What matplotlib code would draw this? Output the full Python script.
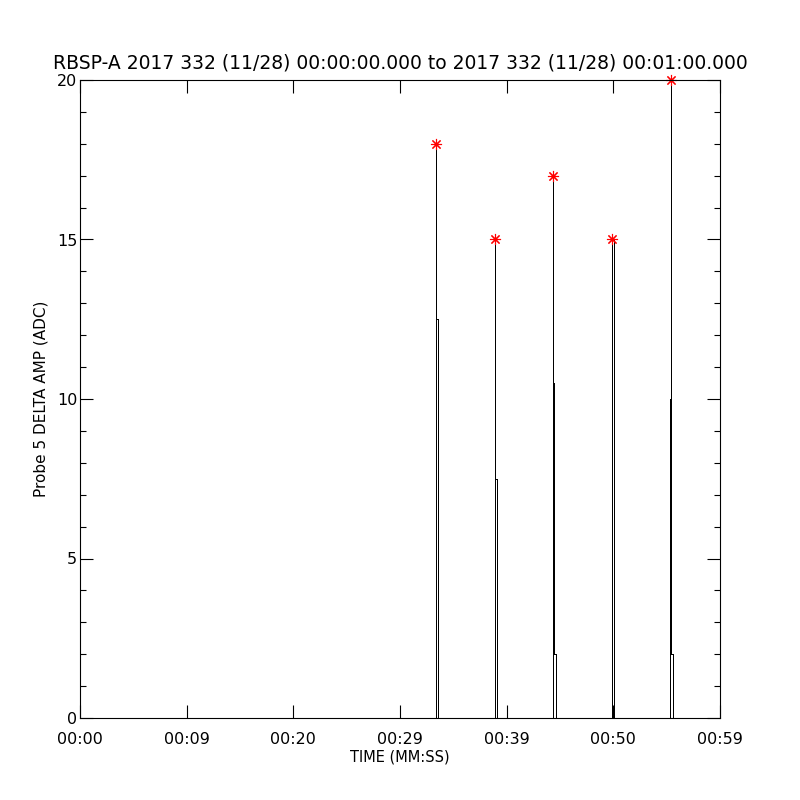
import matplotlib
matplotlib.use("Agg")
import matplotlib.pyplot as plt
from matplotlib.ticker import MultipleLocator

# burst samples: time (seconds after 00:00:00) and amplitude (ADC)
t_b1 = [33.33, 33.33, 33.42, 33.42, 33.42, 33.52, 33.52]
amp_b1 = [0, 12, 12, 18, 12.5, 12.5, 0]
t_b2 = [38.86, 38.86, 38.95, 38.95, 38.95, 39.05, 39.05]
amp_b2 = [0, 4, 4, 15, 7.5, 7.5, 0]
t_b3 = [44.30, 44.30, 44.39, 44.39, 44.39, 44.48, 44.48, 44.58, 44.58]
amp_b3 = [0, 5, 5, 17, 10.5, 10.5, 2, 2, 0]
t_b4 = [49.83, 49.83, 49.92, 49.92, 50.02, 50.02]
amp_b4 = [0, 7.5, 7.5, 15, 15, 0]
t_b5 = [55.27, 55.27, 55.36, 55.36, 55.45, 55.45, 55.55, 55.55]
amp_b5 = [0, 10, 10, 20, 20, 2, 2, 0]

peak_t = [33.42, 38.95, 44.39, 49.92, 55.40]
peak_amp = [18, 15, 17, 15, 20]

xtick_pos = [0, 10, 20, 30, 40, 50, 60]
xtick_labels = ['00:00', '00:09', '00:20', '00:29', '00:39', '00:50', '00:59']

time = [0.0] + t_b1 + t_b2 + t_b3 + t_b4 + t_b5 + [60.0]
amp = [0] + amp_b1 + amp_b2 + amp_b3 + amp_b4 + amp_b5 + [0]

plt.rcParams['font.family'] = ['DejaVu Sans']
fig = plt.figure(figsize=(8, 8), dpi=100)
ax = fig.add_axes([0.1, 0.1025, 0.8, 0.7975])

ax.plot(time, amp, color='black', lw=0.7, antialiased=False)
ax.plot(peak_t, peak_amp, ls='none', marker=(8, 2, 0), ms=8, mew=0.8,
        color='red', clip_on=False)

ax.set_xlim(0, 60)
ax.set_ylim(0, 20)
ax.set_xticks(xtick_pos)
ax.set_xticklabels(xtick_labels)
ax.yaxis.set_major_locator(MultipleLocator(5))
ax.yaxis.set_minor_locator(MultipleLocator(1))

ax.tick_params(which='both', direction='in', top=True, right=True,
               labelsize=11.5, width=0.8)
ax.tick_params(which='major', length=9.5)
ax.tick_params(axis='x', which='major', pad=10)
ax.tick_params(axis='y', which='major', pad=2)
ax.tick_params(which='minor', length=4)
for s in ax.spines.values():
    s.set_linewidth(0.8)

ax.set_xlabel('TIME (MM:SS)', fontsize=10.5, labelpad=2)
ax.set_ylabel('Probe 5 DELTA AMP (ADC)', fontsize=11, labelpad=6)
ax.set_title('RBSP-A 2017 332 (11/28) 00:00:00.000 to 2017 332 (11/28) 00:01:00.000',
             fontsize=13.5, pad=8)

fig.savefig('out.png', dpi=100, facecolor='white')
